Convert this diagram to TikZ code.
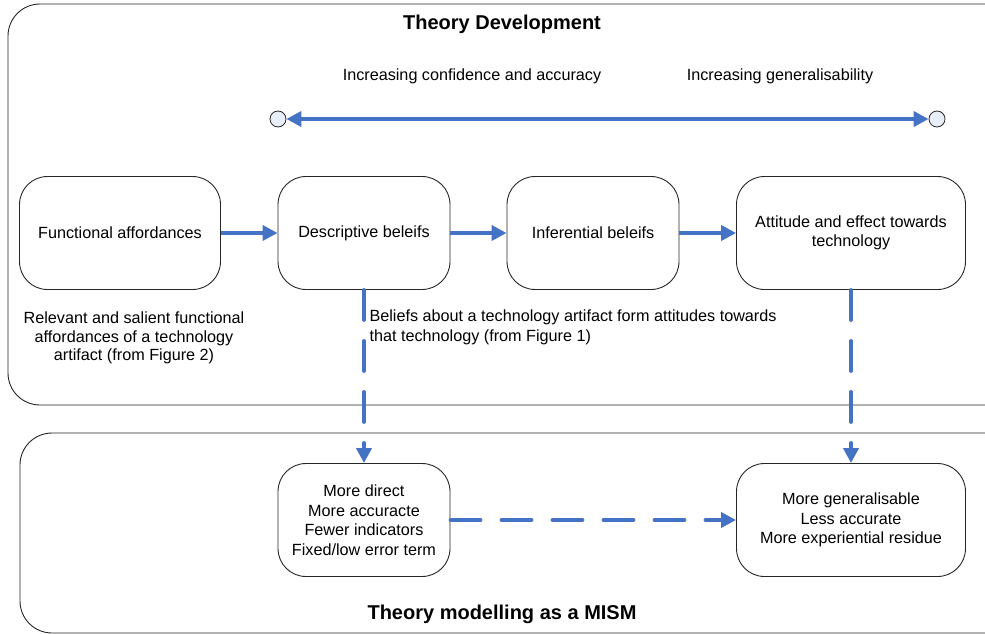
\documentclass[tikz,border=0pt]{standalone}
\usepackage{fontspec}
\setmainfont{Liberation Sans}
\usetikzlibrary{arrows.meta, positioning}

\definecolor{arrowblue}{RGB}{68,114,196}
\definecolor{endfill}{RGB}{232,238,248}

\begin{document}
\begin{tikzpicture}[x=1pt, y=-1pt,
    frame/.style={draw=black!85, line width=0.9pt, rounded corners=32pt},
    stage/.style={rectangle, draw=black!85, line width=0.9pt, rounded corners=28pt, minimum width=201pt, minimum height=113pt, align=center, font=\fontsize{16.2}{19.5}\selectfont},
    wide/.style={stage, minimum width=229pt},
    narrow/.style={stage, minimum width=172pt},
    note/.style={align=center, font=\fontsize{16.2}{18.5}\selectfont},
    heading/.style={font=\bfseries\fontsize{20}{24}\selectfont},
    endpt/.style={circle, draw=black!85, fill=endfill, line width=0.8pt, minimum size=16pt, inner sep=0pt},
    flow/.style={-{Triangle[length=15pt,width=15pt]}, draw=arrowblue, line width=3.8pt},
    dashflow/.style={flow, dash pattern=on 30pt off 21pt, line cap=round}
]
    \clip (0,0) rectangle (985,634);
    \useasboundingbox (0,0) rectangle (985,634);

    % outer frames
    \draw[frame] (8,4) rectangle (1020,405);
    \draw[frame] (20,433) rectangle (1020,633);

    \node[heading] (devtitle) at (502,24) {Theory Development};
    \node[heading] (mismtitle) at (502,614) {Theory modelling as a MISM};

    \node[note] (conf) at (472,76) {Increasing confidence and accuracy};
    \node[note] (gen) at (780,76) {Increasing generalisability};

    \node[endpt] (lend) at (278,119) {};
    \node[endpt] (rend) at (937,119) {};
    \draw[flow, {Triangle[length=15pt,width=15pt]}-{Triangle[length=15pt,width=15pt]}] (lend) -- (rend);

    % upper row
    \node[stage] (func) at (120,233) {Functional affordances};
    \node[narrow] (desc) at (364,233) {Descriptive beleifs};
    \node[narrow] (infer) at (593,233) {Inferential beleifs};
    \node[wide] (attit) at (851,233) {Attitude and effect towards\\ technology};

    \draw[flow] (func) -- (desc);
    \draw[flow] (desc) -- (infer);
    \draw[flow] (infer) -- (attit);

    \node[note] (funcnote) at (134,338) {Relevant and salient functional\\ affordances of a technology\\ artifact (from Figure 2)};
    \node[note, align=left, anchor=north west, font=\fontsize{16.2}{20}\selectfont] (beliefnote) at (366,306) {Beliefs about a technology artifact form attitudes towards\\ that technology (from Figure 1)};

    % lower row
    \node[narrow] (direct) at (364,520) {More direct\\ More accuracte\\ Fewer indicators\\ Fixed/low error term};
    \node[wide] (general) at (851,520) {More generalisable\\ Less accurate\\ More experiential residue};

    \draw[dashflow] (desc) -- (direct);
    \draw[dashflow] (attit) -- (general);
    \draw[dashflow] (direct) -- (general);
\end{tikzpicture}
\end{document}
